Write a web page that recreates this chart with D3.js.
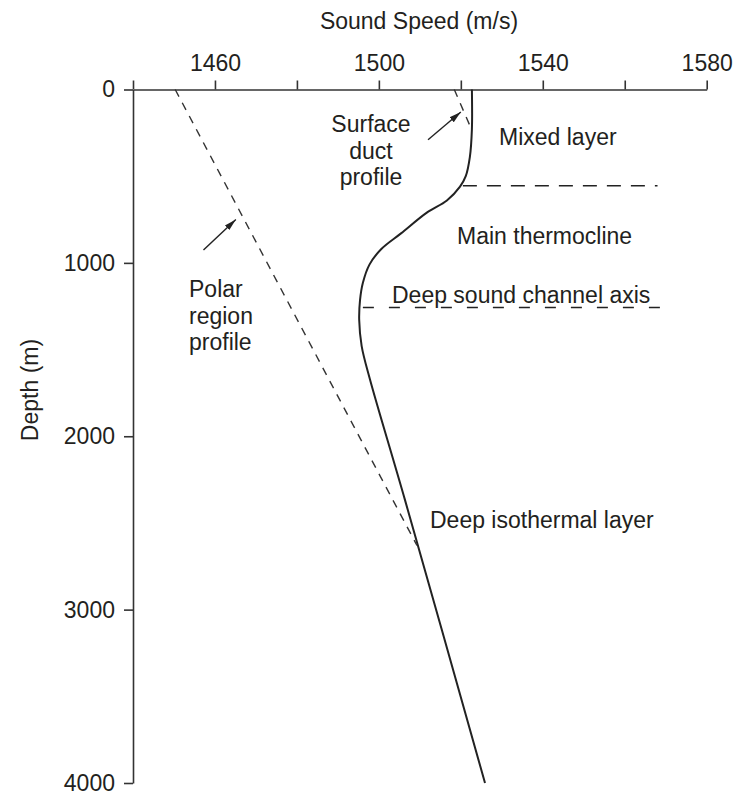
<!DOCTYPE html>
<html>
<head>
<meta charset="utf-8">
<script src="https://cdn.jsdelivr.net/npm/d3@7"></script>
<style>
  body { margin: 0; background: #fff; }
  text { font-family: "Liberation Sans", Arial, Helvetica, sans-serif; fill: #231f20; }
  .axis path, .axis line { stroke: #333; stroke-width: 1.6; }
  .axis text { font-size: 23px; fill: #231f20; }
</style>
</head>
<body>
<div id="chart"></div>
<script>
// speed axis ticks (every 20 m/s, labelled every 40)
let speedTicks = [1440, 1460, 1480, 1500, 1520, 1540, 1560, 1580]
let speedLabels = [1460, 1500, 1540, 1580]
let depthTicks = [0, 1000, 2000, 3000, 4000]

// typical mid-latitude profile
let profileDepth = [0, 230, 390, 500, 560, 640, 710, 830, 920, 1010, 1115, 1215, 1330, 1480, 1670, 2370, 4000]
let profileSpeed = [1522.7, 1522.7, 1522.2, 1521.2, 1519.8, 1516.6, 1511.7, 1505.4, 1500.6, 1497.7, 1496.1, 1495.4, 1495.2, 1495.8, 1497.8, 1506.4, 1525.9]

// polar region profile (dashed)
let polarDepth = [0, 2630]
let polarSpeed = [1450.3, 1509.3]

// surface duct profile (dashed)
let ductDepth = [0, 230]
let ductSpeed = [1518.4, 1522.6]

// layer boundaries
let mixedLayerDepth = 555
let mixedLayerSpeeds = [1520.5, 1568]
let channelAxisDepth = 1258
let channelAxisSpeeds = [1496.1, 1570.6]

let width = 733, height = 791

let svg = d3.select("#chart")
  .append("svg")
    .attr("width", width)
    .attr("height", height)

let x = d3.scaleLinear()
  .domain([1440, 1580])
  .range([133, 706.7])

let y = d3.scaleLinear()
  .domain([0, 4000])
  .range([89.5, 783])

// axes
svg.append("g")
  .attr("class", "axis")
  .attr("transform", "translate(0," + y(0) + ")")
  .call(d3.axisTop(x)
    .tickValues(speedTicks)
    .tickSize(9)
    .tickSizeOuter(0)
    .tickPadding(9.5)
    .tickFormat(d => speedLabels.includes(d) ? d : ""))

svg.append("g")
  .attr("class", "axis")
  .attr("transform", "translate(" + x(1440) + ",0)")
  .call(d3.axisLeft(y)
    .tickValues(depthTicks)
    .tickSize(9)
    .tickSizeOuter(0)
    .tickPadding(9)
    .tickFormat(d3.format("d")))

svg.selectAll(".axis text").style("font-family", "'Liberation Sans', Arial, sans-serif")

// axis titles
svg.append("text")
  .attr("x", 419)
  .attr("y", 29)
  .attr("text-anchor", "middle")
  .style("font-size", "23px")
  .text("Sound Speed (m/s)")

svg.append("text")
  .attr("transform", "translate(30,390) rotate(-90)")
  .attr("dy", "0.35em")
  .attr("text-anchor", "middle")
  .style("font-size", "23px")
  .text("Depth (m)")

let line = d3.line()
  .x(d => x(d[0]))
  .y(d => y(d[1]))

// main profile
svg.append("path")
  .datum(d3.zip(profileSpeed, profileDepth))
  .attr("fill", "none")
  .attr("stroke", "#222")
  .attr("stroke-width", 2)
  .attr("d", line.curve(d3.curveCatmullRom.alpha(0.5)))

line.curve(d3.curveLinear)

// polar profile
svg.append("path")
  .datum(d3.zip(polarSpeed, polarDepth))
  .attr("fill", "none")
  .attr("stroke", "#333")
  .attr("stroke-width", 1.4)
  .attr("stroke-dasharray", "8,7")
  .attr("d", line)

// surface duct
svg.append("path")
  .datum(d3.zip(ductSpeed, ductDepth))
  .attr("fill", "none")
  .attr("stroke", "#333")
  .attr("stroke-width", 1.4)
  .attr("stroke-dasharray", "8,7")
  .attr("d", line)

// layer boundaries
svg.append("line")
  .attr("x1", x(mixedLayerSpeeds[0]))
  .attr("x2", x(mixedLayerSpeeds[1]))
  .attr("y1", y(mixedLayerDepth))
  .attr("y2", y(mixedLayerDepth))
  .attr("stroke", "#222")
  .attr("stroke-width", 1.5)
  .attr("stroke-dasharray", "14,10")

svg.append("line")
  .attr("x1", x(channelAxisSpeeds[0]))
  .attr("x2", x(channelAxisSpeeds[1]))
  .attr("y1", y(channelAxisDepth))
  .attr("y2", y(channelAxisDepth))
  .attr("stroke", "#222")
  .attr("stroke-width", 1.5)
  .attr("stroke-dasharray", "11,15")

// arrows
svg.append("defs").append("marker")
    .attr("id", "arrow")
    .attr("viewBox", "0 0 12 10")
    .attr("refX", 12)
    .attr("refY", 5)
    .attr("markerWidth", 12)
    .attr("markerHeight", 10)
    .attr("markerUnits", "userSpaceOnUse")
    .attr("orient", "auto")
  .append("path")
    .attr("d", "M0,1.8L12,5L0,8.2Z")
    .attr("fill", "#222")

let arrows = [
  {from: [1512, 290], to: [1520, 130]},   // surface duct
  {from: [1457.2, 926], to: [1465.1, 750]} // polar region
]

svg.selectAll(".arrow")
  .data(arrows)
  .enter()
  .append("line")
    .attr("x1", d => x(d.from[0]))
    .attr("y1", d => y(d.from[1]))
    .attr("x2", d => x(d.to[0]))
    .attr("y2", d => y(d.to[1]))
    .attr("stroke", "#222")
    .attr("stroke-width", 1.4)
    .attr("marker-end", "url(#arrow)")

// annotations
let notes = [
  {lines: ["Surface", "duct", "profile"], x: 371, y: 132, anchor: "middle"},
  {lines: ["Mixed layer"], x: 499, y: 145, anchor: "start"},
  {lines: ["Main thermocline"], x: 457, y: 244, anchor: "start"},
  {lines: ["Deep sound channel axis"], x: 392, y: 303, anchor: "start"},
  {lines: ["Polar", "region", "profile"], x: 189, y: 297, anchor: "start"},
  {lines: ["Deep isothermal layer"], x: 430, y: 528, anchor: "start"}
]

notes.forEach(n => {
  let t = svg.append("text")
    .attr("x", n.x)
    .attr("y", n.y)
    .attr("text-anchor", n.anchor)
    .style("font-size", "23px")
  n.lines.forEach((l, i) => {
    t.append("tspan")
      .attr("x", n.x)
      .attr("dy", i == 0 ? 0 : 26.7)
      .text(l)
  })
})
</script>
</body>
</html>
